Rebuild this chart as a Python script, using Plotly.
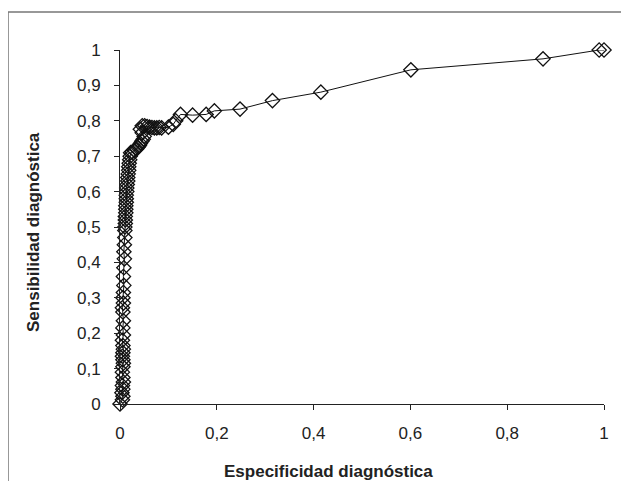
import plotly.graph_objects as go

# ROC-style data
especificidad = [
    0.000,
    0.005, 0.006, 0.004, 0.006, 0.005, 0.007, 0.006, 0.005, 0.006, 0.007, 0.006, 0.005,
    0.006, 0.007, 0.006, 0.005, 0.007, 0.006, 0.007, 0.006, 0.005, 0.007, 0.006, 0.007,
    0.008, 0.007, 0.008, 0.009, 0.008, 0.009, 0.010,
    0.010, 0.010, 0.011, 0.011, 0.011, 0.012, 0.012, 0.012, 0.013, 0.013, 0.013, 0.014,
    0.014, 0.015, 0.016, 0.016, 0.017, 0.018, 0.018, 0.019, 0.020, 0.021, 0.022,
    0.025, 0.030, 0.034, 0.037, 0.040, 0.042, 0.045, 0.048, 0.050, 0.046, 0.042,
    0.046, 0.051, 0.056, 0.061, 0.066, 0.071, 0.076, 0.081, 0.086,
    0.100, 0.110, 0.115, 0.125, 0.150, 0.178, 0.195, 0.248, 0.315, 0.415, 0.601,
    0.874, 0.990, 1.000,
]
sensibilidad = [
    0.000,
    0.012, 0.022, 0.032, 0.042, 0.052, 0.062, 0.075, 0.090, 0.105, 0.115, 0.125, 0.135,
    0.145, 0.155, 0.165, 0.180, 0.195, 0.215, 0.235, 0.260, 0.272, 0.285, 0.300, 0.315,
    0.335, 0.360, 0.385, 0.410, 0.430, 0.450, 0.470,
    0.490, 0.500, 0.510, 0.520, 0.530, 0.540, 0.550, 0.560, 0.570, 0.580, 0.590, 0.600,
    0.610, 0.620, 0.630, 0.640, 0.650, 0.660, 0.670, 0.680, 0.690, 0.700, 0.710,
    0.712, 0.716, 0.720, 0.725, 0.730, 0.736, 0.742, 0.748, 0.756, 0.766, 0.776,
    0.786, 0.786, 0.784, 0.782, 0.781, 0.780, 0.780, 0.781, 0.780,
    0.782, 0.790, 0.800, 0.818, 0.816, 0.818, 0.828, 0.833, 0.857, 0.881, 0.944,
    0.975, 1.000, 1.000,
]

y_ticks = [0, 0.1, 0.2, 0.3, 0.4, 0.5, 0.6, 0.7, 0.8, 0.9, 1]
x_ticks = [0, 0.2, 0.4, 0.6, 0.8, 1]
x_title = "Especificidad diagnóstica"
y_title = "Sensibilidad diagnóstica"

fig = go.Figure()
fig.add_trace(go.Scatter(
    x=especificidad, y=sensibilidad, mode="lines+markers",
    line=dict(color="#111111", width=1),
    marker=dict(symbol="diamond-open", size=11, color="#111111", line=dict(width=1.3)),
    cliponaxis=False, showlegend=False,
))

font_family = "Liberation Sans, Arial, Helvetica, sans-serif"
W, H = 629, 481
L, T = 112, 42
pw, ph = 484, 354
R = W - L - pw
B = H - T - ph

fig.update_layout(
    width=W, height=H,
    margin=dict(l=L, r=R, t=T, b=B, pad=0),
    paper_bgcolor="white", plot_bgcolor="white",
    separators=",.",
    font=dict(family=font_family, size=17, color="#222222"),
    xaxis=dict(
        range=[0, 1], tickvals=x_ticks, showgrid=False, zeroline=False,
        showline=True, linecolor="#222222", linewidth=1,
        ticks="outside", ticklen=5, tickcolor="#222222",
        ticklabelstandoff=9,
    ),
    yaxis=dict(
        range=[0, 1], tickvals=y_ticks, showgrid=False, zeroline=False,
        showline=True, linecolor="#222222", linewidth=1,
        ticks="outside", ticklen=5, tickcolor="#222222",
        ticklabelstandoff=10,
    ),
)

fig.add_annotation(text=f"<b>{x_title}</b>", xref="paper", yref="paper",
                   x=(320 - L) / pw, y=-67 / ph, showarrow=False,
                   xanchor="center", yanchor="middle", font=dict(size=17, color="#222222"))
fig.add_annotation(text=f"<b>{y_title}</b>", xref="paper", yref="paper",
                   x=(25 - L) / pw, y=(T + ph - 224) / ph, showarrow=False, textangle=-90,
                   xanchor="center", yanchor="middle", font=dict(size=17, color="#222222"))

# outer frame (left and top edges visible)
x_left = (0 - L) / pw
x_right = (W - L) / pw
y_top = (T + ph - 4) / ph
y_bot = (T + ph - H) / ph
fig.add_shape(type="path", xref="paper", yref="paper",
              path=f"M {x_left} {y_bot} L {x_left} {y_top} L {x_right} {y_top}",
              line=dict(color="#777777", width=1.5))

fig.write_html("out.html")
